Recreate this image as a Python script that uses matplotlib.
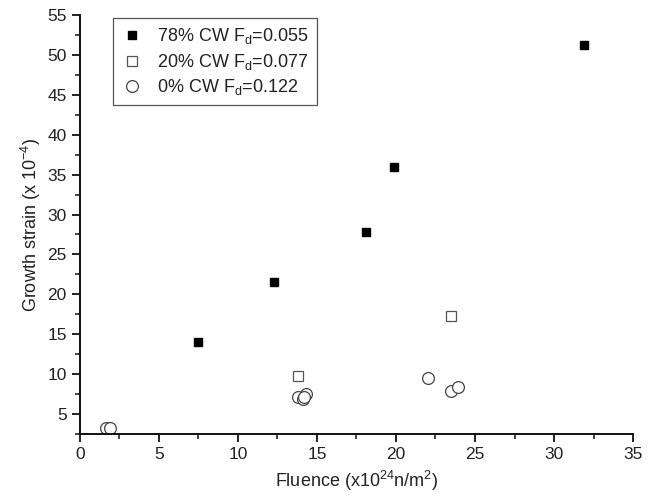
import matplotlib
matplotlib.use("Agg")
import matplotlib.pyplot as plt
from matplotlib.ticker import MultipleLocator

plt.rcParams['font.family'] = ['Liberation Sans', 'DejaVu Sans']
plt.rcParams['mathtext.default'] = 'regular'

# 78% CW, Fd=0.055
cw78_x = [7.5, 12.3, 18.1, 19.9, 31.9]
cw78_y = [14.0, 21.6, 27.8, 35.9, 51.3]
# 20% CW, Fd=0.077
cw20_x = [13.8, 23.5]
cw20_y = [9.8, 17.3]
# 0% CW, Fd=0.122
cw0_x = [1.65, 1.9, 13.8, 14.1, 14.3, 14.2, 22.0, 23.5, 23.9]
cw0_y = [3.3, 3.3, 7.2, 6.9, 7.5, 7.2, 9.5, 7.9, 8.4]

fig = plt.figure(figsize=(6.54, 5.01), dpi=100)
ax = fig.add_axes([0.1223, 0.1337, 0.8456, 0.8363])

ax.plot(cw78_x, cw78_y, ls='none', marker='s', ms=6, mfc='black', mec='black',
        label='78% CW F$_d$=0.055')
ax.plot(cw20_x, cw20_y, ls='none', marker='s', ms=7.5, mfc='white', mec='#555555',
        mew=0.9, label='20% CW F$_d$=0.077')
ax.plot(cw0_x, cw0_y, ls='none', marker='o', ms=8.5, mfc='white', mec='#444444',
        mew=0.9, label='0% CW F$_d$=0.122')

ax.set_xlim(0, 35)
ax.set_ylim(2.5, 55)
ax.xaxis.set_major_locator(MultipleLocator(5))
ax.xaxis.set_minor_locator(MultipleLocator(2.5))
ax.yaxis.set_major_locator(MultipleLocator(5))
ax.yaxis.set_minor_locator(MultipleLocator(2.5))
ax.set_yticks([5, 10, 15, 20, 25, 30, 35, 40, 45, 50, 55])

for s in ['top', 'right']:
    ax.spines[s].set_visible(False)
for s in ['left', 'bottom']:
    ax.spines[s].set_linewidth(1.4)
    ax.spines[s].set_color('#111111')

ax.tick_params(which='major', direction='out', length=6, width=1.3,
               labelsize=12.5, colors='#111111', labelcolor='#222222')
ax.tick_params(which='minor', direction='out', length=3.5, width=1.1, colors='#111111')

ax.set_xlabel('Fluence (x10$^{24}$n/m$^2$)', fontsize=13, color='#222222', labelpad=5)
ax.set_ylabel('Growth strain (x 10$^{-4}$)', fontsize=13, color='#222222', labelpad=3)

leg = ax.legend(loc='upper left', bbox_to_anchor=(0.05, 1.005), fontsize=13,
                frameon=True, fancybox=False, edgecolor='#555555', framealpha=1,
                handletextpad=0.8, borderpad=0.45, labelspacing=0.3, handlelength=1.2,
                borderaxespad=0.3)
leg.get_frame().set_linewidth(0.9)
for t in leg.get_texts():
    t.set_color('#222222')

fig.savefig('out.png', dpi=100)
